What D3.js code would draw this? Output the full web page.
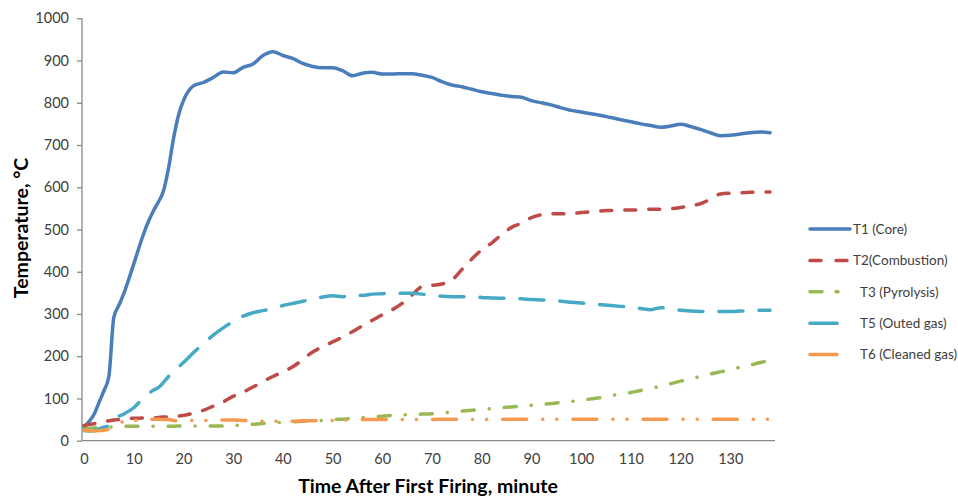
<!DOCTYPE html>
<html>
<head>
<meta charset="utf-8">
<script src="https://cdn.jsdelivr.net/npm/d3@7"></script>
<style>
    body { margin: 0; background: #ffffff; }
    svg { display: block; font-family: Lato, "Liberation Sans", sans-serif; }
</style>
</head>
<body>
<svg id="chart" width="958" height="499"></svg>
<script>
// time after first firing (minutes)
const minutes = [0, 1, 2, 3, 4, 5, 6, 7, 8, 9, 10, 11, 12, 13, 14, 15, 16, 17, 18, 19, 20,
    22, 24, 26, 28, 30, 32, 34, 36, 38, 40, 42, 44, 46, 48, 50, 52, 54, 56, 58, 60,
    62, 64, 66, 68, 70, 72, 74, 76, 78, 80, 82, 84, 86, 88, 90, 92, 94, 96, 98, 100,
    102, 104, 106, 108, 110, 112, 114, 116, 118, 120, 122, 124, 126, 128, 130, 132, 134, 136, 138];

const t1Core = [32, 45, 62, 90, 118, 152, 292, 320, 348, 382, 418, 455, 490, 520, 545, 566, 592, 645, 715, 770, 805,
    840, 848, 860, 873, 871, 884, 892, 912, 921, 912, 905, 893, 886, 883, 883, 876, 864, 870, 872, 868,
    868, 869, 869, 865, 860, 850, 842, 838, 832, 826, 822, 818, 815, 813, 805, 800, 795, 788, 782, 778,
    774, 770, 765, 760, 755, 750, 746, 742, 745, 749, 744, 737, 729, 722, 723, 726, 729, 731, 729];

const t2Combustion = [36, 38, 40, 43, 45, 47, 49, 50, 52, 53, 53, 53, 54, 54, 54, 55, 56, 56, 57, 58, 60,
    65, 72, 82, 92, 105, 115, 127, 140, 152, 163, 175, 192, 210, 222, 234, 245, 258, 272, 285, 298,
    310, 325, 345, 365, 368, 371, 380, 405, 430, 452, 468, 488, 505, 515, 528, 535, 537, 537, 538, 540,
    542, 544, 545, 546, 546, 547, 548, 548, 549, 552, 556, 561, 572, 584, 586, 587, 588, 589, 589];

const t3Pyrolysis = [28, 29, 30, 31, 31, 32, 33, 34, 34, 34, 34, 34, 34, 34, 34, 34, 34, 34, 34, 35, 35,
    35, 35, 35, 35, 36, 37, 39, 41, 42, 44, 45, 46, 47, 48, 50, 51, 53, 55, 57, 58,
    60, 61, 62, 63, 64, 66, 68, 70, 72, 74, 76, 78, 80, 82, 84, 86, 88, 91, 93, 96,
    99, 102, 107, 110, 114, 119, 124, 129, 135, 141, 147, 152, 158, 163, 168, 174, 179, 185, 190];

const t5OutedGas = [24, 23, 24, 28, 32, 36, 50, 58, 63, 70, 78, 90, 102, 112, 120, 126, 138, 152, 164, 174, 185,
    208, 230, 250, 267, 282, 295, 303, 308, 313, 320, 325, 330, 335, 340, 343, 341, 345, 344, 347, 348,
    350, 349, 349, 347, 344, 342, 341, 341, 341, 339, 338, 337, 337, 336, 334, 333, 333, 330, 328, 326,
    324, 322, 320, 318, 316, 313, 310, 315, 311, 309, 307, 306, 306, 306, 306, 307, 308, 309, 309];

const t6CleanedGas = [24, 24, 23, 24, 25, 27, 32, 40, 46, 48, 48, 49, 50, 50, 51, 51, 50, 50, 48, 47, 47,
    48, 48, 48, 49, 49, 48, 47, 46, 46, 46, 46, 47, 47, 48, 48, 49, 49, 50, 50, 50,
    50, 50, 50, 50, 50, 51, 51, 51, 50, 50, 50, 51, 51, 51, 51, 51, 51, 51, 51, 51,
    51, 51, 51, 51, 51, 51, 51, 51, 51, 51, 51, 51, 51, 51, 51, 51, 51, 51, 51];

const seriesNames = ["T1 (Core)", "T2(Combustion)", "T3 (Pyrolysis)", "T5 (Outed gas)", "T6 (Cleaned gas)"];
const seriesValues = [t1Core, t2Combustion, t3Pyrolysis, t5OutedGas, t6CleanedGas];
const yTicks = [0, 100, 200, 300, 400, 500, 600, 700, 800, 900, 1000];
const xTicks = [0, 10, 20, 30, 40, 50, 60, 70, 80, 90, 100, 110, 120, 130];

// styles per series (Excel look)
const colors = ["#4A7EBB", "#BE4B48", "#98B954", "#46AAC5", "#F39A4E"];
const dashes = [null, "11,13", "12,15,0.1,15", "24,16", "24,16,0.1,14,0.1,16"];
const legendLen = [42, 42, 30, 29, 29];
const legendTextX = [853, 853, 860, 860, 860];

const svg = d3.select("#chart");

const x = d3.scaleLinear().domain([0, 139]).range([84, 775]);
const y = d3.scaleLinear().domain([0, 1000]).range([440.7, 18.3]);

// axes
const axisColor = "#898989";
const labelColor = "#404040";

svg.append("line")
    .attr("x1", 82).attr("x2", 82)
    .attr("y1", y(1000)).attr("y2", y(0))
    .attr("stroke", axisColor).attr("stroke-width", 1.3);

svg.append("line")
    .attr("x1", 82).attr("x2", 775)
    .attr("y1", y(0)).attr("y2", y(0))
    .attr("stroke", axisColor).attr("stroke-width", 1.3);

const yAxis = svg.append("g")
    .attr("transform", "translate(82,0)")
    .call(d3.axisLeft(y).tickValues(yTicks).tickFormat(d3.format("d")).tickSize(5).tickPadding(8));

yAxis.select(".domain").remove();
yAxis.selectAll(".tick line").attr("stroke", axisColor).attr("stroke-width", 1.3);
yAxis.selectAll(".tick text")
    .attr("fill", labelColor)
    .style("font-size", "14.5px")
    .style("font-family", "Lato, sans-serif");

const xAxis = svg.append("g")
    .attr("transform", "translate(0," + y(0) + ")")
    .call(d3.axisBottom(x).tickValues(xTicks).tickSize(0).tickPadding(13));

xAxis.select(".domain").remove();
xAxis.selectAll(".tick text")
    .attr("fill", labelColor)
    .style("font-size", "14.5px")
    .style("font-family", "Lato, sans-serif");

// axis titles
svg.append("text")
    .attr("x", 428).attr("y", 493)
    .attr("text-anchor", "middle")
    .attr("font-weight", "bold")
    .attr("font-size", "19.5px")
    .attr("fill", "#000")
    .text("Time After First Firing, minute");

svg.append("text")
    .attr("transform", "translate(28,228) rotate(-90)")
    .attr("text-anchor", "middle")
    .attr("font-weight", "bold")
    .attr("font-size", "19.5px")
    .attr("fill", "#000")
    .text("Temperature, \u00B0C");

// lines
const line = d3.line()
    .x(function (d) {
        return x(d.t);
    })
    .y(function (d) {
        return y(d.v);
    })
    .curve(d3.curveMonotoneX);

const series = seriesNames.map(function (name, i) {
    return {
        name: name,
        i: i,
        points: minutes.map(function (t, j) {
            return {t: t, v: seriesValues[i][j]};
        })
    };
});

svg.append("g")
    .selectAll("path")
    .data(series)
    .enter()
    .append("path")
    .attr("fill", "none")
    .attr("stroke", function (d) {
        return colors[d.i];
    })
    .attr("stroke-width", 3.5)
    .attr("stroke-linecap", "round")
    .attr("stroke-linejoin", "round")
    .attr("stroke-dasharray", function (d) {
        return dashes[d.i];
    })
    .attr("d", function (d) {
        return line(d.points);
    });

// legend
const legend = svg.append("g")
    .selectAll("g")
    .data(series)
    .enter()
    .append("g")
    .attr("transform", function (d) {
        return "translate(0," + (229 + d.i * 31.4) + ")";
    });

legend.append("line")
    .attr("x1", 810)
    .attr("x2", function (d) {
        return 810 + legendLen[d.i] - 2;
    })
    .attr("y1", 0).attr("y2", 0)
    .attr("stroke", function (d) {
        return colors[d.i];
    })
    .attr("stroke-width", 3.5)
    .attr("stroke-linecap", "round")
    .attr("stroke-dasharray", function (d) {
        return d.i === 1 ? "11,15" : d.i === 2 ? "12,14" : null;
    });

legend.append("text")
    .attr("x", function (d) {
        return legendTextX[d.i];
    })
    .attr("y", 0)
    .attr("dy", "0.35em")
    .attr("font-size", "13.5px")
    .attr("fill", labelColor)
    .text(function (d) {
        return d.name;
    });
</script>
</body>
</html>
